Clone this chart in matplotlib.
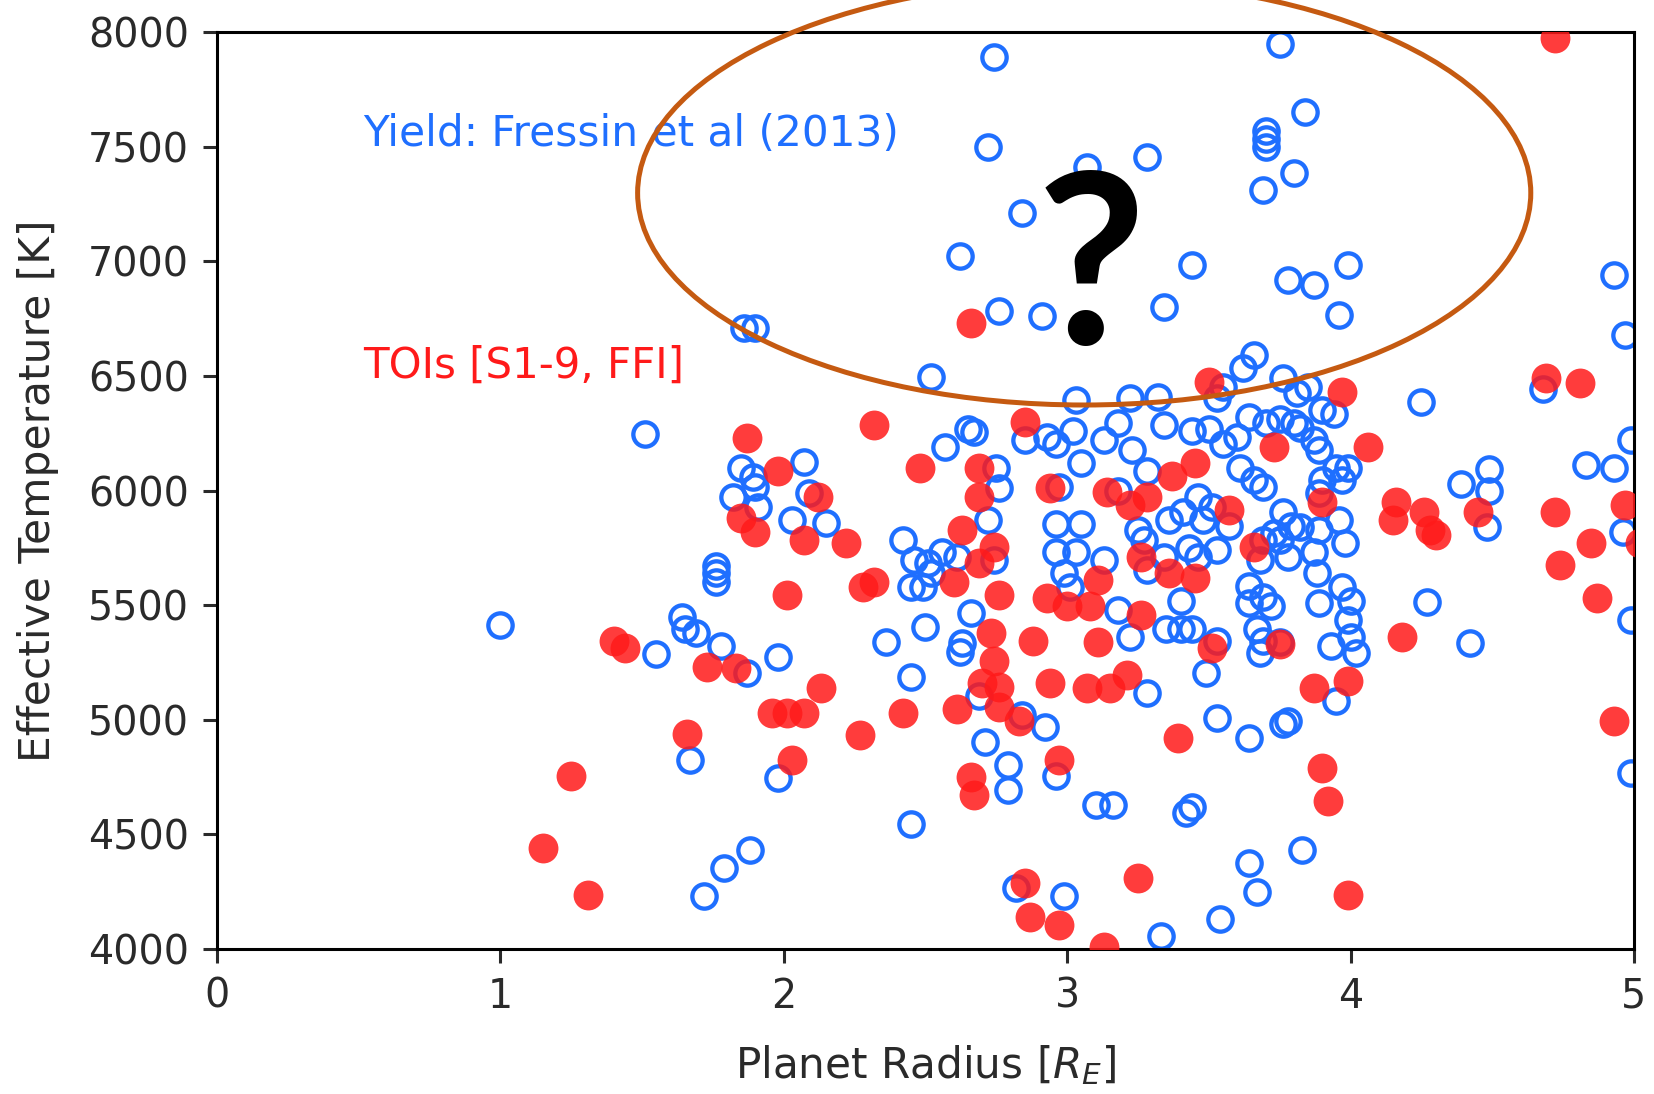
import matplotlib
matplotlib.use("Agg")
import matplotlib.pyplot as plt
from matplotlib.patches import Ellipse

# Simulated yield (Fressin et al. 2013): planet radius [R_E] and host T_eff [K]
yield_radius = [
    2.74, 2.72, 3.07, 3.28, 2.84, 2.62, 2.76, 2.91, 3.44, 3.34, 3.75, 3.70, 3.70, 3.70,
    3.84, 3.80, 3.69, 3.78, 3.87, 3.99, 3.96, 4.93, 4.97, 1.86, 1.90,
    2.52, 1.51, 3.66, 3.62, 3.55, 3.76, 3.81, 3.03, 3.22, 3.32, 3.53, 2.65, 2.67, 2.57,
    2.85, 2.93, 2.96, 3.02, 3.13, 3.18, 3.23, 3.34, 3.44, 3.50, 3.55, 3.60, 3.64, 3.70,
    3.75, 3.80,
    2.75, 2.76, 3.05, 2.97, 3.28, 3.18, 3.61, 3.66, 3.69, 3.46, 3.41, 3.48, 3.51, 3.76,
    3.79, 3.73, 3.69, 2.72, 2.96, 3.05, 3.25, 3.27, 3.36, 3.57, 3.53, 2.56, 2.61, 2.96,
    3.03, 3.13, 3.28, 3.34, 3.43, 3.46, 3.68, 3.75, 3.78, 2.74, 2.99, 3.01, 3.40, 3.64,
    3.69, 3.72, 3.64, 2.66, 2.63, 3.18, 3.22, 3.35, 3.40, 3.44, 3.53, 3.67, 3.69, 3.75,
    1.85, 1.89, 1.90, 1.82, 1.91, 2.07, 2.09, 2.03, 2.15, 2.42, 2.46, 2.51, 2.45, 2.49,
    2.52, 2.50, 2.36, 1.76, 1.76, 1.76, 1.64, 1.65, 1.69, 1.55, 1.78, 1.98, 1.87, 2.45,
    1.67, 1.98, 2.45, 1.88, 1.79, 1.72, 1.00,
    2.62, 2.69, 2.84, 2.92, 2.71, 2.79, 2.79, 2.96, 3.10, 3.16, 3.28, 3.49, 3.53, 3.64,
    3.76, 3.78, 3.42, 3.44, 2.82, 2.99, 3.33, 3.54, 3.64, 3.67, 3.83, 3.68, 3.95, 4.42,
    4.99,
    4.25, 4.68, 4.99, 4.83, 4.93, 4.39, 4.49, 4.49, 4.48, 4.96, 4.27, 4.99,
    3.85, 3.94, 3.90, 3.82, 3.87, 3.89, 3.95, 3.99, 3.97, 3.90, 3.89, 3.96, 3.82, 3.89,
    3.98, 3.87, 3.88, 3.89, 3.97, 4.00, 3.99, 4.00, 3.93, 4.02,
]
yield_teff = [
    7890, 7500, 7410, 7455, 7210, 7025, 6785, 6760, 6985, 6800, 7950, 7570, 7535, 7500,
    7650, 7385, 7310, 6920, 6895, 6985, 6765, 6940, 6680, 6710, 6710,
    6495, 6245, 6590, 6535, 6450, 6490, 6425, 6395, 6405, 6410, 6405, 6270, 6255, 6190,
    6220, 6235, 6205, 6260, 6220, 6295, 6175, 6285, 6260, 6270, 6205, 6235, 6320, 6295,
    6310, 6295,
    6100, 6010, 6120, 6015, 6085, 6000, 6100, 6045, 6015, 5970, 5905, 5870, 5930, 5905,
    5845, 5815, 5785, 5870, 5855, 5855, 5830, 5785, 5870, 5845, 5740, 5730, 5710, 5730,
    5730, 5695, 5655, 5710, 5750, 5710, 5695, 5785, 5710, 5695, 5640, 5580, 5520, 5585,
    5535, 5495, 5510, 5465, 5335, 5480, 5360, 5395, 5395, 5395, 5345, 5395, 5345, 5340,
    6100, 6060, 6015, 5970, 5930, 6125, 5990, 5870, 5860, 5785, 5695, 5685, 5580, 5580,
    5640, 5405, 5340, 5670, 5640, 5600, 5450, 5395, 5380, 5285, 5320, 5275, 5205, 5185,
    4825, 4745, 4545, 4430, 4355, 4230, 5415,
    5295, 5105, 5020, 4970, 4905, 4805, 4695, 4755, 4630, 4630, 5115, 5205, 5010, 4920,
    4980, 4995, 4595, 4620, 4265, 4230, 4055, 4130, 4375, 4250, 4430, 5290, 5080, 5335,
    4770,
    6385, 6445, 6220, 6110, 6100, 6030, 6095, 6000, 5840, 5820, 5515, 5435,
    6450, 6335, 6350, 6275, 6220, 6175, 6100, 6100, 6045, 6045, 5990, 5870, 5840, 5830,
    5770, 5730, 5640, 5510, 5580, 5520, 5435, 5360, 5320, 5290,
]

# TESS Objects of Interest, sectors 1-9 (FFI)
toi_radius = [
    4.72, 2.66, 3.50, 3.97, 4.69, 4.81, 1.87, 2.32, 2.85, 4.06, 3.73, 1.98, 2.48, 2.69,
    3.45, 3.37, 2.12, 2.69, 2.94, 3.14, 3.22, 3.28, 3.57, 3.90, 4.16, 4.15, 4.26, 4.28,
    4.30, 4.45, 4.72, 4.97, 5.02, 1.85, 1.90, 2.07, 2.22, 2.63, 2.74, 2.69, 3.26, 3.66,
    4.85, 4.74, 3.36, 3.45, 2.28, 2.32, 2.60, 2.76, 2.93, 3.00, 3.08, 3.11, 3.26, 3.75,
    3.51, 4.87, 4.18, 2.01, 2.73, 2.88, 3.11, 1.40, 1.44, 1.73, 1.83, 2.74, 2.70, 2.76,
    2.76, 3.07, 3.15, 3.21, 2.94, 3.87, 3.99, 2.13, 1.96, 2.01, 2.07, 2.42, 2.61, 2.83,
    4.93, 1.66, 2.27, 3.39, 2.03, 2.97, 2.66, 2.67, 3.90, 3.92, 1.25, 1.15, 1.31, 2.85,
    3.25, 3.99, 2.87, 2.97, 3.13,
]
toi_teff = [
    7975, 6730, 6475, 6430, 6490, 6470, 6230, 6285, 6300, 6190, 6190, 6085, 6100, 6100,
    6120, 6065, 5970, 5970, 6010, 5995, 5935, 5970, 5915, 5950, 5950, 5870, 5905, 5830,
    5805, 5905, 5905, 5935, 5770, 5880, 5820, 5785, 5770, 5830, 5755, 5685, 5710, 5755,
    5770, 5675, 5640, 5620, 5580, 5600, 5600, 5545, 5530, 5495, 5495, 5610, 5455, 5330,
    5315, 5530, 5360, 5545, 5380, 5345, 5340, 5345, 5315, 5230, 5225, 5255, 5160, 5145,
    5055, 5140, 5140, 5195, 5160, 5140, 5170, 5140, 5030, 5030, 5030, 5030, 5045, 4995,
    4995, 4940, 4935, 4920, 4825, 4825, 4750, 4670, 4790, 4645, 4755, 4440, 4235, 4290,
    4310, 4235, 4140, 4105, 4010,
]

x_ticks = [0, 1, 2, 3, 4, 5]
y_ticks = [4000, 4500, 5000, 5500, 6000, 6500, 7000, 7500, 8000]

BLUE = "#1f6fff"
RED = "#ff1a1a"
INK = "#2a2a2a"

plt.rcParams.update({
    "font.family": "DejaVu Sans",
    "font.size": 28.5,
    "axes.linewidth": 2.2,
    "xtick.major.size": 10,
    "ytick.major.size": 10,
    "xtick.major.width": 2.2,
    "ytick.major.width": 2.2,
    "xtick.major.pad": 10,
    "ytick.major.pad": 10,
})

fig = plt.figure(figsize=(16.54, 10.94), dpi=100)
ax = fig.add_axes([0.1312, 0.1325, 0.8567, 0.8382])

ax.plot(yield_radius, yield_teff, linestyle="none", marker="o", markersize=17.5,
        markerfacecolor="none", markeredgecolor=BLUE, markeredgewidth=3.1, zorder=2)
ax.plot(toi_radius, toi_teff, linestyle="none", marker="o", markersize=21.5,
        markerfacecolor=RED, markeredgewidth=0, alpha=0.85, zorder=3)

ax.set_xlim(0, 5)
ax.set_ylim(4000, 8000)
ax.set_xticks(x_ticks)
ax.set_yticks(y_ticks)
ax.tick_params(colors=INK)
ax.set_xlabel("Planet Radius [$R_E$]", fontsize=30.3, labelpad=19, color=INK)
ax.set_ylabel("Effective Temperature [K]", fontsize=30.5, labelpad=21, color=INK)

ax.text(0.514, 7505, "Yield: Fressin et al (2013)", color=BLUE, fontsize=30.4,
        ha="left", va="baseline", zorder=4)
ax.text(0.514, 6490, "TOIs [S1-9, FFI]", color=RED, fontsize=30.2,
        ha="left", va="baseline", zorder=4)

# Hand-drawn style callout over the hot-star region
ell = Ellipse((0.6555, 0.8236), 0.5400, 0.3876, transform=fig.transFigure,
              fill=False, edgecolor="#C55A11", linewidth=3.6, zorder=10)
fig.add_artist(ell)
fig.text(0.660, 0.6856, "?", fontsize=171, family="Lato", fontweight="bold",
         color="black", ha="center", va="baseline", zorder=11)

fig.savefig("out.png", dpi=100)
